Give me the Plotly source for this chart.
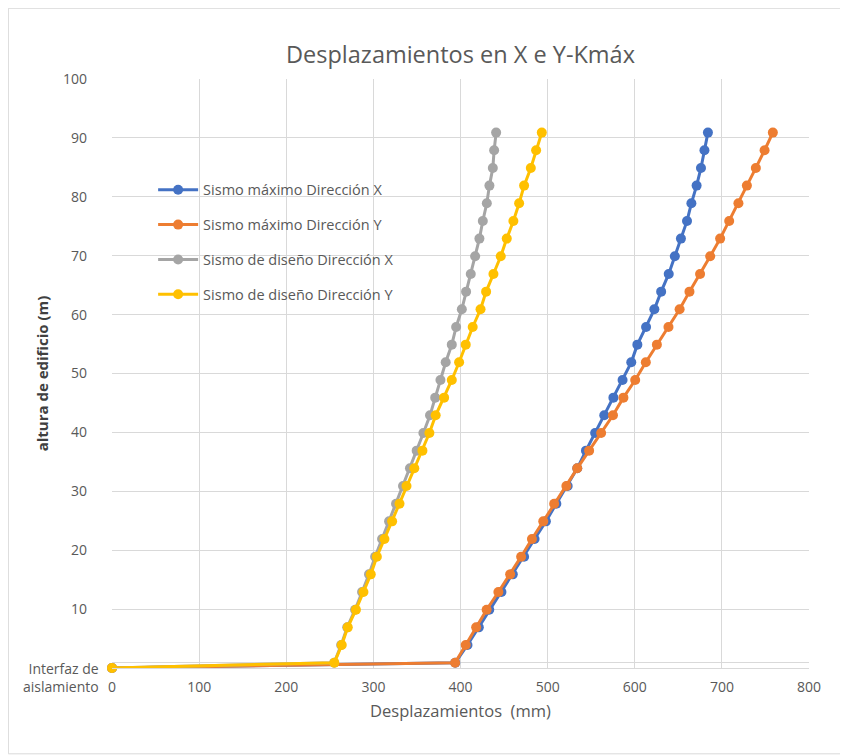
import plotly.graph_objects as go

# Heights (m): base interface, then floor levels
alturas = [0, 0.9, 3.9, 6.9, 9.9, 12.9, 15.9, 18.9, 21.9, 24.9, 27.9, 30.9,
           33.9, 36.9, 39.9, 42.9, 45.9, 48.9, 51.9, 54.9, 57.9, 60.9,
           63.9, 66.9, 69.9, 72.9, 75.9, 78.9, 81.9, 84.9, 87.9, 90.9]

max_x = [0, 394, 408, 421, 433, 447, 460, 473, 485, 498, 510, 523,
         534, 544, 554.5, 565, 575.5, 586, 596, 603, 613, 622.5,
         630.3, 639, 646, 653, 660, 665, 671, 676, 680, 684]

max_y = [0, 393.8, 406, 418, 430, 443.5, 457, 469.6, 482, 495, 507.5, 521.5,
         534, 547.6, 561.4, 575, 587, 600.5, 612.7, 625.4, 638.7, 651.5,
         662.8, 675, 686.6, 698, 708.4, 719, 728.7, 739, 749, 758.5]

dis_x = [0, 255, 263, 270, 279, 287, 295, 302, 310, 318, 326, 334,
         342, 349.7, 357.4, 365, 371, 377, 383, 390, 395, 401.5,
         406.4, 411.8, 416.8, 421.7, 425.6, 430.2, 433.2, 437.1, 438.6, 440.9]

dis_y = [0, 255.2, 263.7, 270.6, 280, 288.6, 297, 304, 312.7, 321.5, 330, 338,
         347, 356.3, 364.3, 371.5, 381.2, 390, 398.4, 406, 414, 423,
         429.4, 437.8, 446.2, 453.1, 460.7, 467.3, 473, 480.7, 486.8, 493.3]

series = [
    ("Sismo máximo Dirección X", max_x, "#4472C4"),
    ("Sismo máximo Dirección Y", max_y, "#ED7D31"),
    ("Sismo de diseño Dirección X", dis_x, "#A5A5A5"),
    ("Sismo de diseño Dirección Y", dis_y, "#FFC000"),
]

y_tickvals = [0, 10, 20, 30, 40, 50, 60, 70, 80, 90, 100]
y_ticktext = ["", "10", "20", "30", "40", "50", "60", "70", "80", "90", "100"]
base_label = "Interfaz de<br>aislamiento"
x_tickvals = [0, 100, 200, 300, 400, 500, 600, 700, 800]

FONT = "Open Sans, Noto Sans, sans-serif"
TXT = "#595959"

W, H = 840, 747
ML, MR, MT, MB = 104, 39, 71, 87
PW, PH = W - ML - MR, H - MT - MB

fig = go.Figure()
for i, (name, xs, col) in enumerate(series):
    fig.add_trace(go.Scatter(
        x=xs, y=alturas, name=name, mode="lines+markers",
        line=dict(color=col, width=3),
        marker=dict(color=col, size=10),
        legendgroup=f"g{i}", cliponaxis=False,
    ))

fig.add_annotation(x=0, xref="paper", y=0, yref="y", text=base_label,
                   showarrow=False, xanchor="right", yanchor="middle",
                   align="right", xshift=-11, yshift=-9,
                   font=dict(size=14, color=TXT, family=FONT))

fig.update_layout(
    width=W, height=H,
    margin=dict(l=ML, r=MR, t=MT, b=MB, autoexpand=False),
    paper_bgcolor="white", plot_bgcolor="white",
    font=dict(family=FONT, color=TXT, size=14),
    title=dict(text="Desplazamientos en X e Y-Kmáx", x=0.5, xanchor="center",
               xref="paper",
               y=1 - 47 / H, yanchor="middle",
               font=dict(size=23.5, color=TXT, family=FONT)),
    showlegend=True,
    legend=dict(x=0.059, y=0.839, xanchor="left", yanchor="top",
                bgcolor="rgba(0,0,0,0)", font=dict(size=14.5, color=TXT),
                tracegroupgap=13, itemwidth=40),
    xaxis=dict(range=[0, 800], tickvals=x_tickvals, showgrid=True,
               gridcolor="#D9D9D9", gridwidth=1, zeroline=False,
               showline=True, linecolor="#D9D9D9", ticks="",
               ticklabelstandoff=6,
               tickfont=dict(size=14, color=TXT),
               title=dict(text="Desplazamientos  (mm)", standoff=10,
                          font=dict(size=16.5, color=TXT))),
    yaxis=dict(range=[0, 100], tickvals=y_tickvals, ticktext=y_ticktext,
               showgrid=True, gridcolor="#D9D9D9", gridwidth=1,
               zeroline=False, showline=False, ticks="",
               ticklabelstandoff=24,
               tickfont=dict(size=14, color=TXT),
               minor=dict(tickvals=[0.9], showgrid=True, gridcolor="#D9D9D9"),
               title=dict(text="<b>altura de edificio (m)</b>", standoff=10,
                          font=dict(size=15, color="#404040"))),
    shapes=[dict(type="rect", xref="paper", yref="paper",
                 x0=-ML / PW + 0.0005, x1=1 + MR / PW - 0.002,
                 y0=-MB / PH + 0.002, y1=1 + MT / PH - 0.0005,
                 line=dict(color="#D9D9D9", width=1), layer="below")],
)

fig.write_html("out.html")
